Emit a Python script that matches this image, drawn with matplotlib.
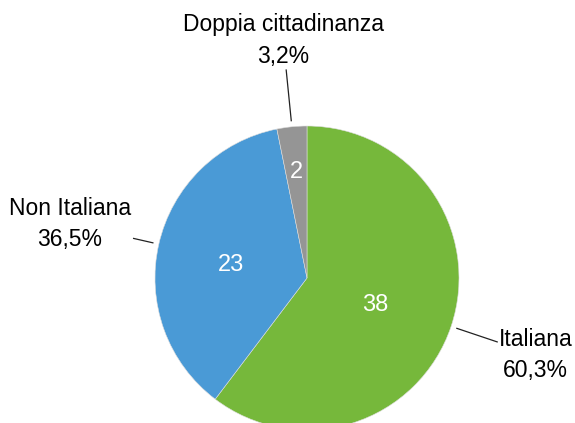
import matplotlib
matplotlib.use("Agg")
import matplotlib.pyplot as plt
import numpy as np

categorie = ["Italiana", "Non Italiana", "Doppia cittadinanza"]
valori = [38, 23, 2]
colori = ["#76b83b", "#4a9ad6", "#959595"]

# distanze (in raggi) per etichette interne ed esterne
dist_num = [0.47, 0.51, 0.73]
dist_lab = [1.585, 1.60, 1.57]
fine_linea = [1.32, 1.17, 1.375]

plt.rcParams['font.family'] = ['Liberation Sans', 'DejaVu Sans']

fig = plt.figure(figsize=(5.75, 4.23), dpi=100)
# asse quadrato di 304 px centrato sul centro della torta
ax = fig.add_axes([155 / 575, -7 / 423, 304 / 575, 304 / 423])

wedges, _ = ax.pie(valori, colors=colori, startangle=90, counterclock=False,
                   radius=1, wedgeprops=dict(edgecolor='#dddddd', linewidth=0.4))
ax.set_xlim(-1, 1)
ax.set_ylim(-1, 1)
ax.set_aspect('equal')
ax.axis('off')

totale = sum(valori)
for i, w in enumerate(wedges):
    ang = np.deg2rad((w.theta1 + w.theta2) / 2)
    c, s = np.cos(ang), np.sin(ang)
    ax.annotate(str(valori[i]), (dist_num[i] * c, dist_num[i] * s),
                xytext=(0, -3), textcoords='offset points', color='white',
                fontsize=17, ha='center', va='center')
    pct = f"{valori[i] / totale * 100:.1f}".replace('.', ',') + '%'
    ax.text(dist_lab[i] * c, dist_lab[i] * s, categorie[i] + "\n" + pct,
            fontsize=16.5, ha='center', va='center', linespacing=1.45,
            clip_on=False)
    ax.plot([1.04 * c, fine_linea[i] * c], [1.04 * s, fine_linea[i] * s],
            color='#222222', lw=0.9, clip_on=False)

fig.savefig("out.png", dpi=100)
